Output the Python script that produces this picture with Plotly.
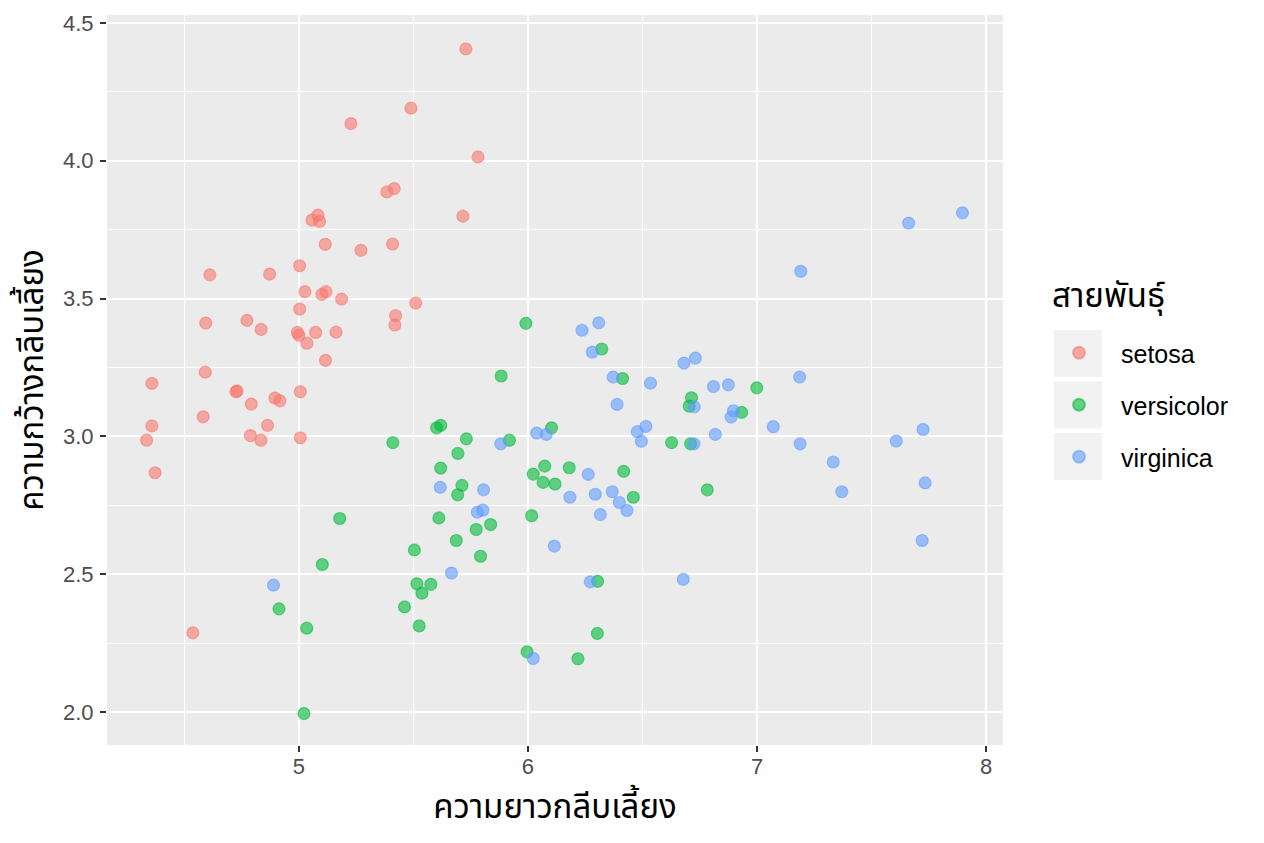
import plotly.graph_objects as go

species = ["setosa", "versicolor", "virginica"]
colors = ["#F8766D", "#00BA38", "#619CFF"]

setosa_x = [5.729, 5.489, 5.227, 5.782, 5.716, 5.416, 5.384, 5.083, 5.057, 5.090,
            5.115, 5.271, 5.409, 5.003, 4.611, 4.872, 5.026, 5.100, 5.118, 5.186,
            5.510, 5.003, 5.422, 5.419, 4.593, 4.773, 4.835, 4.993, 5.000, 5.035,
            5.073, 5.162, 5.116, 4.591, 4.358, 4.725, 4.730, 4.792, 4.895, 4.917,
            5.006, 4.582, 4.863, 4.358, 4.335, 4.788, 4.834, 5.006, 4.372, 4.537]
setosa_y = [4.406, 4.191, 4.135, 4.014, 3.799, 3.899, 3.887, 3.803, 3.785, 3.780,
            3.697, 3.675, 3.698, 3.619, 3.586, 3.589, 3.525, 3.515, 3.525, 3.498,
            3.484, 3.462, 3.438, 3.404, 3.411, 3.421, 3.388, 3.377, 3.367, 3.338,
            3.377, 3.378, 3.276, 3.233, 3.192, 3.162, 3.165, 3.117, 3.139, 3.129,
            3.162, 3.071, 3.040, 3.038, 2.986, 3.003, 2.986, 2.995, 2.868, 2.287]

versicolor_x = [5.178, 5.504, 5.102, 5.515, 5.576, 5.537, 4.913, 5.461, 5.034, 5.525,
                5.022, 5.410, 5.991, 6.322, 5.883, 6.413, 6.714, 6.704, 6.933, 6.999,
                5.619, 5.601, 6.103, 5.731, 5.919, 6.627, 6.710, 5.694, 5.619, 6.073,
                6.180, 6.023, 6.418, 6.066, 6.118, 5.712, 5.693, 6.460, 6.783, 5.611,
                6.016, 5.837, 5.774, 5.687, 5.793, 6.304, 6.303, 5.996, 6.218]
versicolor_y = [2.702, 2.588, 2.535, 2.465, 2.463, 2.431, 2.374, 2.381, 2.304, 2.312,
                1.994, 2.977, 3.410, 3.317, 3.219, 3.210, 3.140, 3.110, 3.087, 3.176,
                3.040, 3.031, 3.031, 2.991, 2.986, 2.977, 2.973, 2.938, 2.885, 2.892,
                2.886, 2.863, 2.873, 2.833, 2.827, 2.822, 2.788, 2.779, 2.806, 2.704,
                2.712, 2.680, 2.662, 2.622, 2.565, 2.474, 2.285, 2.218, 2.193]

virginica_x = [4.889, 6.309, 6.236, 6.281, 6.731, 6.681, 6.372, 6.535, 6.810, 6.875,
               6.389, 6.726, 6.897, 6.887, 6.515, 6.477, 6.495, 6.038, 6.080, 6.818,
               6.725, 5.881, 6.263, 5.617, 5.806, 6.368, 6.294, 6.183, 6.399, 6.432,
               6.316, 5.779, 5.803, 6.115, 5.666, 6.272, 6.678, 6.023, 7.897, 7.662,
               7.191, 7.186, 7.071, 7.188, 7.333, 7.370, 7.608, 7.725, 7.734, 7.721]
virginica_y = [2.460, 3.412, 3.385, 3.306, 3.284, 3.266, 3.215, 3.193, 3.181, 3.187,
               3.116, 3.107, 3.093, 3.070, 3.036, 3.017, 2.982, 3.012, 3.007, 3.007,
               2.973, 2.973, 2.862, 2.815, 2.806, 2.799, 2.790, 2.779, 2.760, 2.731,
               2.716, 2.725, 2.732, 2.602, 2.504, 2.472, 2.481, 2.194, 3.811, 3.774,
               3.599, 3.215, 3.035, 2.973, 2.907, 2.799, 2.983, 3.025, 2.831, 2.622]

x_ticks = [5, 6, 7, 8]
y_ticks = [2.0, 2.5, 3.0, 3.5, 4.0, 4.5]
y_tick_labels = ["2.0", "2.5", "3.0", "3.5", "4.0", "4.5"]
x_title = "ความยาวกลีบเลี้ยง"
y_title = "ความกว้างกลีบเลี้ยง"
legend_title = "สายพันธุ์"

THAI = "Noto Sans Thai, Noto Sans Thai UI, Loma, Garuda, Tlwg Typo, Noto Sans, sans-serif"
LATIN = "Liberation Sans, Arial, Helvetica, sans-serif"


def rgba(hex_color, a):
    h = hex_color.lstrip("#")
    r, g, b = int(h[0:2], 16), int(h[2:4], 16), int(h[4:6], 16)
    return f"rgba({r},{g},{b},{a})"


# page has an 8px body margin; figure is sized to fill the rest of the window
OFF = 8
W, H = 1264 - OFF, 843 - OFF
ML, MT = 107 - OFF, 15 - OFF
PW, PH = 896, 730
MR, MB = W - ML - PW, H - MT - PH


def px_x(p):
    return (p - OFF - ML) / PW


def px_y(p):
    return (H - MB - (p - OFF)) / PH


fig = go.Figure()
series = [(setosa_x, setosa_y), (versicolor_x, versicolor_y), (virginica_x, virginica_y)]
for name, col, (xs, ys) in zip(species, colors, series):
    fig.add_trace(go.Scatter(
        x=xs, y=ys, mode="markers", name=name, legendgroup=name,
        marker=dict(size=12, color=rgba(col, 0.6),
                    line=dict(color=rgba(col, 0.55), width=1.2)),
    ))

# grey key backgrounds for the legend (ggplot style)
shapes = []
for top in [330, 381.5, 433]:
    shapes.append(dict(type="rect", xref="paper", yref="paper",
                       x0=px_x(1054), x1=px_x(1102), y0=px_y(top), y1=px_y(top + 47),
                       fillcolor="#F2F2F2", line=dict(width=0), layer="below"))

annotations = [dict(text=legend_title, xref="paper", yref="paper",
                    x=px_x(1050), y=px_y(297), xanchor="left", yanchor="middle",
                    showarrow=False, font=dict(family=THAI, size=33, color="black"))]

fig.update_layout(
    width=W, height=H,
    margin=dict(l=ML, r=MR, t=MT, b=MB),
    paper_bgcolor="white",
    plot_bgcolor="#EBEBEB",
    font=dict(family=LATIN, color="black"),
    shapes=shapes,
    annotations=annotations,
    legend=dict(
        x=px_x(1037), xanchor="left", y=px_y(330), yanchor="top",
        font=dict(family=LATIN, size=25, color="black"),
        bgcolor="rgba(0,0,0,0)", itemwidth=74, tracegroupgap=16.5,
        itemsizing="constant",
    ),
    xaxis=dict(
        range=[4.162, 8.074], tickvals=x_ticks, ticktext=[str(v) for v in x_ticks],
        showgrid=True, gridcolor="white", gridwidth=2, automargin=False,
        minor=dict(tickvals=[4.5, 5.5, 6.5, 7.5], showgrid=True, gridcolor="white", gridwidth=1, ticks=""),
        ticks="outside", ticklen=6, tickwidth=1.5, tickcolor="#333333",
        tickfont=dict(family=LATIN, size=22, color="#4D4D4D"), ticklabelstandoff=-4,
        zeroline=False, showline=False,
        title=dict(text=x_title, font=dict(family=THAI, size=33, color="black"), standoff=16),
    ),
    yaxis=dict(
        range=[1.88, 4.529], tickvals=y_ticks, ticktext=y_tick_labels,
        showgrid=True, gridcolor="white", gridwidth=2, automargin=False,
        minor=dict(tickvals=[2.25, 2.75, 3.25, 3.75, 4.25], showgrid=True, gridcolor="white", gridwidth=1, ticks=""),
        ticks="outside", ticklen=6, tickwidth=1.5, tickcolor="#333333",
        tickfont=dict(family=LATIN, size=22, color="#4D4D4D"), ticklabelstandoff=2,
        zeroline=False, showline=False,
        title=dict(text=y_title, font=dict(family=THAI, size=33, color="black"), standoff=10),
    ),
)

fig.write_html("out.html")
